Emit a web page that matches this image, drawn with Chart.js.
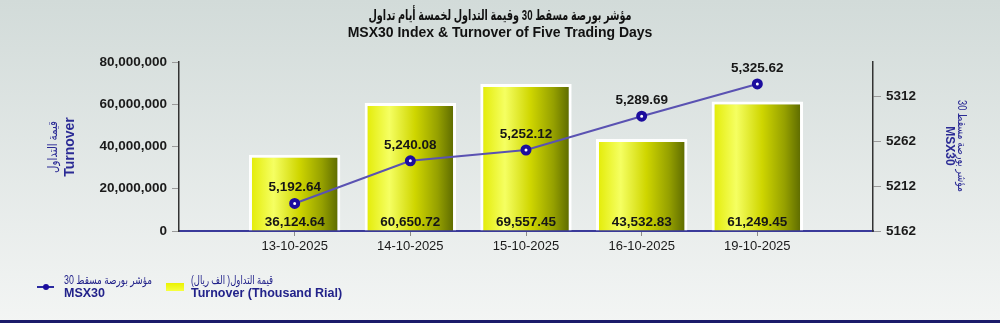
<!DOCTYPE html>
<html>
<head>
<meta charset="utf-8">
<script src="https://cdn.jsdelivr.net/npm/chart.js@4.4.1/dist/chart.umd.min.js"></script>
<style>
html,body{margin:0;padding:0;}
body{width:1000px;height:323px;overflow:hidden;background:linear-gradient(#d2dbd9,#f3f5f4);}
#wrap{position:relative;width:1000px;height:323px;}
#bottomline{position:absolute;left:0;top:320px;width:1000px;height:3px;background:#1b1b6a;}
</style>
</head>
<body>
<div id="wrap"><canvas id="c" width="1000" height="323"></canvas><div id="bottomline"></div></div>
<script>
const dates = ['13-10-2025','14-10-2025','15-10-2025','16-10-2025','19-10-2025'];
const turnoverK = [36124.64, 60650.72, 69557.45, 43532.83, 61249.45];   // thousand rial
const msx30 = [5192.64, 5240.08, 5252.12, 5289.69, 5325.62];
const leftTicks = [0, 20000, 40000, 60000, 80000];                     // thousand rial (shown x1000)
const rightTicks = [5162, 5212, 5262, 5312];
const titleAr = 'مؤشر بورصة مسقط 30 وقيمة التداول لخمسة أيام تداول';
const titleEn = 'MSX30 Index & Turnover of Five Trading Days';

const labels = [''].concat(dates, ['']);
const barData = [null].concat(turnoverK, [null]);
const lineData = [null].concat(msx30, [null]);

const fmt2 = v => v.toLocaleString('en-US',{minimumFractionDigits:2,maximumFractionDigits:2});
const BARPCT = 0.79;
const FONT = 'Arial, "Liberation Sans", "DejaVu Sans", sans-serif';

function barGradient(context){
  const chart = context.chart;
  if(!chart.chartArea) return '#e8f000';
  const xs = chart.scales.x;
  const cx = xs.getPixelForValue(context.dataIndex);
  const spacing = xs.width / (labels.length - 1);
  const hw = spacing * BARPCT / 2;
  const g = chart.ctx.createLinearGradient(cx - hw, 0, cx + hw, 0);
  g.addColorStop(0, '#e2ea00');
  g.addColorStop(0.27, '#f5ff62');
  g.addColorStop(0.55, '#cfd600');
  g.addColorStop(0.8, '#95a000');
  g.addColorStop(1, '#566400');
  return g;
}

// draw text at (x,y) (center or left per align), rotated, compressed horizontally to fit width
function fitText(ctx, text, x, y, font, width, align, rot){
  ctx.save();
  ctx.font = font;
  ctx.textAlign = align;
  ctx.textBaseline = 'middle';
  ctx.translate(x, y);
  if (rot) ctx.rotate(rot);
  const w = ctx.measureText(text).width;
  const s = Math.min(1, width / w);
  ctx.scale(s, 1);
  ctx.fillText(text, 0, 0);
  ctx.restore();
}

const overlay = {
  id: 'overlay',
  afterDraw(chart){
    const ctx = chart.ctx;
    ctx.save();
    ctx.textAlign = 'center';
    ctx.textBaseline = 'middle';
    // titles
    ctx.fillStyle = '#111';
    fitText(ctx, titleAr, 500, 16, 'bold 15px ' + FONT, 263, 'center', 0);
    ctx.font = 'bold 14px ' + FONT;
    ctx.fillText(titleEn, 500, 33);

    // data labels
    const barMeta = chart.getDatasetMeta(0);
    const lineMeta = chart.getDatasetMeta(1);
    ctx.font = 'bold 13.5px ' + FONT;
    ctx.fillStyle = '#161616';
    const yb = chart.scales.y.getPixelForValue(0);
    barMeta.data.forEach((el, i) => {
      if (barData[i] == null) return;
      ctx.fillText(fmt2(barData[i]), el.x, yb - 9);
    });
    lineMeta.data.forEach((el, i) => {
      if (lineData[i] == null) return;
      ctx.fillText(fmt2(lineData[i]), el.x, el.y - 16);
    });

    // axis titles
    ctx.fillStyle = '#2b2b95';
    fitText(ctx, 'قيمة التداول', 53, 147, '13px ' + FONT, 52, 'center', -Math.PI/2);
    fitText(ctx, 'Turnover', 70, 147, 'bold 14px ' + FONT, 200, 'center', -Math.PI/2);
    fitText(ctx, 'مؤشر بورصة مسقط 30', 961, 146, '12px ' + FONT, 92, 'center', Math.PI/2);
    fitText(ctx, 'MSX30', 949, 146, 'bold 12px ' + FONT, 200, 'center', Math.PI/2);

    // legend
    ctx.strokeStyle = '#2a2aa0';
    ctx.lineWidth = 2;
    ctx.beginPath(); ctx.moveTo(37, 287); ctx.lineTo(54, 287); ctx.stroke();
    ctx.fillStyle = '#1c0d9e';
    ctx.beginPath(); ctx.arc(46, 287, 3, 0, Math.PI*2); ctx.fill();
    const ly = ctx.createLinearGradient(0,283,0,291);
    ly.addColorStop(0,'#eaf200'); ly.addColorStop(1,'#f6ff40');
    ctx.fillStyle = ly;
    ctx.fillRect(166, 283, 18, 8);

    ctx.fillStyle = '#22228a';
    fitText(ctx, 'مؤشر بورصة مسقط 30', 64, 281, '12px ' + FONT, 88, 'left', 0);
    fitText(ctx, 'قيمة التداول( الف ريال)', 191, 281, '12px ' + FONT, 82, 'left', 0);
    ctx.textAlign = 'left';
    ctx.font = 'bold 12.5px ' + FONT;
    ctx.fillText('MSX30', 64, 294);
    ctx.fillText('Turnover (Thousand Rial)', 191, 294);
    ctx.restore();
  }
};

new Chart(document.getElementById('c'), {
  data: {
    labels: labels,
    datasets: [
      {
        type: 'bar',
        data: barData,
        yAxisID: 'y',
        backgroundColor: barGradient,
        borderColor: '#ffffff',
        borderWidth: {top: 3, left: 3, right: 3, bottom: 0},
        borderSkipped: false,
        categoryPercentage: 1,
        barPercentage: BARPCT,
        order: 2
      },
      {
        type: 'line',
        data: lineData,
        yAxisID: 'y1',
        borderColor: '#5a52b2',
        borderWidth: 2,
        pointRadius: 3.5,
        pointBorderWidth: 4,
        pointBackgroundColor: '#ffffff',
        pointBorderColor: '#1c0d9e',
        spanGaps: false,
        tension: 0,
        order: 1
      }
    ]
  },
  options: {
    responsive: false,
    animation: false,
    devicePixelRatio: 1,
    layout: {padding: {top: 62, left: 0, right: 0, bottom: 0}},
    plugins: {legend: {display: false}, tooltip: {enabled: false}, title: {display: false}},
    scales: {
      x: {
        type: 'category',
        offset: false,
        grid: {
          display: true,
          offset: false,
          drawOnChartArea: false,
          drawTicks: true,
          tickLength: 5,
          color: c => (c.index === 0 || c.index === labels.length - 1) ? 'rgba(0,0,0,0)' : '#8a8a8a'
        },
        border: {display: true, color: '#3a3a9a', width: 2},
        ticks: {
          color: '#1a1a1a',
          font: {family: FONT, size: 13},
          maxRotation: 0, autoSkip: false, padding: 3
        },
        afterFit: s => { s.height = 92; }
      },
      y: {
        position: 'left',
        min: 0, max: 80000,
        afterBuildTicks: a => { a.ticks = leftTicks.map(v => ({value: v})); },
        grid: {drawOnChartArea: false, drawTicks: true, tickLength: 7, color: '#9a9a9a'},
        border: {display: true, color: '#333', width: 1.5},
        ticks: {
          color: '#1a1a1a',
          font: {family: FONT, size: 13.5, weight: 'bold'},
          padding: 5,
          callback: v => (v * 1000).toLocaleString('en-US')
        },
        afterFit: s => { s.width = 179; }
      },
      y1: {
        position: 'right',
        min: 5162, max: 5350,
        afterBuildTicks: a => { a.ticks = rightTicks.map(v => ({value: v})); },
        grid: {drawOnChartArea: false, drawTicks: true, tickLength: 8, color: '#9a9a9a'},
        border: {display: true, color: '#333', width: 1.5},
        ticks: {
          color: '#1a1a1a',
          font: {family: FONT, size: 13.5, weight: 'bold'},
          padding: 5,
          callback: v => String(v)
        },
        afterFit: s => { s.width = 127; }
      }
    }
  },
  plugins: [overlay]
});
</script>
</body>
</html>
